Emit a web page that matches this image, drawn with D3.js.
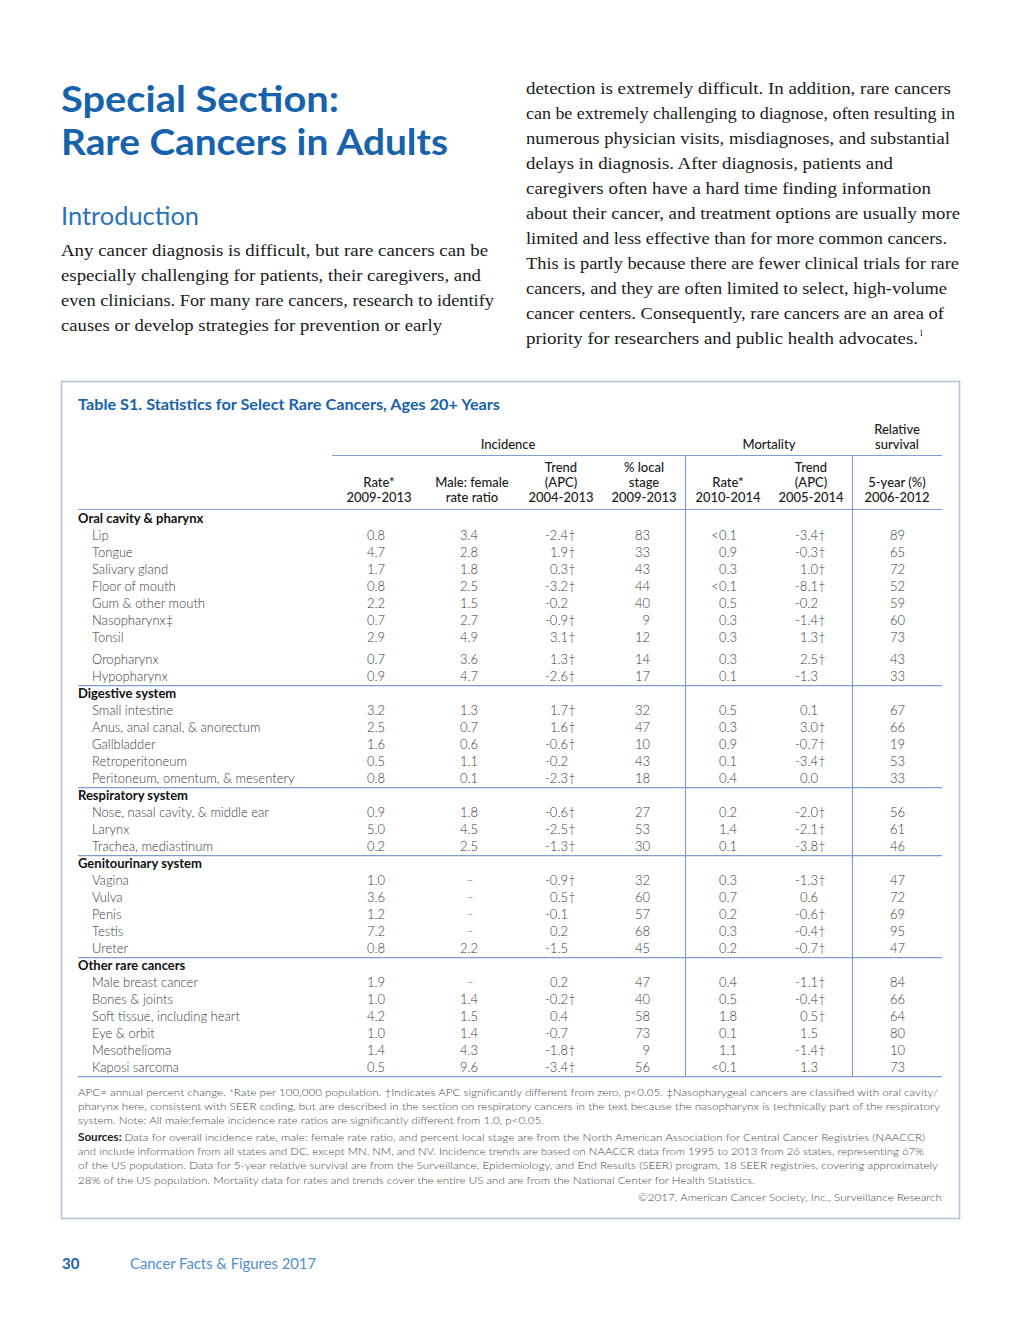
<!DOCTYPE html>
<html>
<head>
<meta charset="utf-8">
<script src="https://cdn.jsdelivr.net/npm/d3@7"></script>
<style>
html,body{margin:0;padding:0;background:#fff;overflow:hidden;}
svg{display:block;}
</style>
</head>
<body>
<div id="chart"></div>
<script>
// ---------- DATA ----------
const groups = ["Oral cavity & pharynx", "Digestive system", "Respiratory system", "Genitourinary system", "Other rare cancers"];
const sites = ["Lip","Tongue","Salivary gland","Floor of mouth","Gum & other mouth","Nasopharynx‡","Tonsil","Oropharynx","Hypopharynx",
  "Small intestine","Anus, anal canal, & anorectum","Gallbladder","Retroperitoneum","Peritoneum, omentum, & mesentery",
  "Nose, nasal cavity, & middle ear","Larynx","Trachea, mediastinum",
  "Vagina","Vulva","Penis","Testis","Ureter",
  "Male breast cancer","Bones & joints","Soft tissue, including heart","Eye & orbit","Mesothelioma","Kaposi sarcoma"];
const siteGroup = [0,0,0,0,0,0,0,0,0, 1,1,1,1,1, 2,2,2, 3,3,3,3,3, 4,4,4,4,4,4];
const incRate = ["0.8","4.7","1.7","0.8","2.2","0.7","2.9","0.7","0.9","3.2","2.5","1.6","0.5","0.8","0.9","5.0","0.2","1.0","3.6","1.2","7.2","0.8","1.9","1.0","4.2","1.0","1.4","0.5"];
const mfRatio = ["3.4","2.8","1.8","2.5","1.5","2.7","4.9","3.6","4.7","1.3","0.7","0.6","1.1","0.1","1.8","4.5","2.5","–","–","–","–","2.2","–","1.4","1.5","1.4","4.3","9.6"];
const incTrend = ["-2.4†","1.9†","0.3†","-3.2†","-0.2","-0.9†","3.1†","1.3†","-2.6†","1.7†","1.6†","-0.6†","-0.2","-2.3†","-0.6†","-2.5†","-1.3†","-0.9†","0.5†","-0.1","0.2","-1.5","0.2","-0.2†","0.4","-0.7","-1.8†","-3.4†"];
const localStage = ["83","33","43","44","40","9","12","14","17","32","47","10","43","18","27","53","30","32","60","57","68","45","47","40","58","73","9","56"];
const mortRate = ["<0.1","0.9","0.3","<0.1","0.5","0.3","0.3","0.3","0.1","0.5","0.3","0.9","0.1","0.4","0.2","1.4","0.1","0.3","0.7","0.2","0.3","0.2","0.4","0.5","1.8","0.1","1.1","<0.1"];
const mortTrend = ["-3.4†","-0.3†","1.0†","-8.1†","-0.2","-1.4†","1.3†","2.5†","-1.3","0.1","3.0†","-0.7†","-3.4†","0.0","-2.0†","-2.1†","-3.8†","-1.3†","0.6","-0.6†","-0.4†","-0.7†","-1.1†","-0.4†","0.5†","1.5","-1.4†","1.3"];
const survival = ["89","65","72","52","59","60","73","43","33","67","66","19","53","33","56","61","46","47","72","69","95","47","84","66","64","80","10","73"];
const gapBefore = ["Oropharynx"];

const colKeys = ["incRate","mfRatio","incTrend","localStage","mortRate","mortTrend","survival"];
const colData = {incRate, mfRatio, incTrend, localStage, mortRate, mortTrend, survival};
const colHeaders = [["Rate*","2009-2013"],["Male: female","rate ratio"],["Trend","(APC)","2004-2013"],["% local","stage","2009-2013"],["Rate*","2010-2014"],["Trend","(APC)","2005-2014"],["5-year (%)","2006-2012"]];
const groupHeaders = [["Incidence"],["Mortality"],["Relative","survival"]];

const titleLines = ["Special Section:", "Rare Cancers in Adults"];
const introLeft = ["Any cancer diagnosis is difficult, but rare cancers can be",
 "especially challenging for patients, their caregivers, and",
 "even clinicians. For many rare cancers, research to identify",
 "causes or develop strategies for prevention or early"];
const introRight = ["detection is extremely difficult. In addition, rare cancers",
 "can be extremely challenging to diagnose, often resulting in",
 "numerous physician visits, misdiagnoses, and substantial",
 "delays in diagnosis. After diagnosis, patients and",
 "caregivers often have a hard time finding information",
 "about their cancer, and treatment options are usually more",
 "limited and less effective than for more common cancers.",
 "This is partly because there are fewer clinical trials for rare",
 "cancers, and they are often limited to select, high-volume",
 "cancer centers. Consequently, rare cancers are an area of",
 "priority for researchers and public health advocates."];
const notes = ["APC= annual percent change. *Rate per 100,000 population. †Indicates APC significantly different from zero, p<0.05. ‡Nasopharygeal cancers are classified with oral cavity/",
 "pharynx here, consistent with SEER coding, but are described in the section on respiratory cancers in the text because the nasopharynx is technically part of the respiratory",
 "system. Note: All male:female incidence rate ratios are significantly different from 1.0, p<0.05."];
const sources = ["Data for overall incidence rate, male: female rate ratio, and percent local stage are from the North American Association for Central Cancer Registries (NAACCR)",
 "and include information from all states and DC, except MN, NM, and NV. Incidence trends are based on NAACCR data from 1995 to 2013 from 26 states, representing 67%",
 "of the US population. Data for 5-year relative survival are from the Surveillance, Epidemiology, and End Results (SEER) program, 18 SEER registries, covering approximately",
 "28% of the US population. Mortality data for rates and trends cover the entire US and are from the National Center for Health Statistics."];

// ---------- DRAW ----------
const W = 1020, H = 1320;
const svg = d3.select("#chart").append("svg").attr("width", W).attr("height", H);
svg.append("rect").attr("width", W).attr("height", H).attr("fill", "#fff");

const BLUE = "#1762ad";
const SANS = "Lato, 'Open Sans', sans-serif";
const SERIF = "'Liberation Serif', 'DejaVu Serif', serif";

function fitText(sel, w) { sel.attr("textLength", w).attr("lengthAdjust", "spacingAndGlyphs"); }

// Title
const titleW = [278, 387];
svg.selectAll("text.title").data(titleLines).join("text")
  .attr("x", 61).attr("y", (d,i)=> 112 + i*43)
  .attr("font-family", SANS).attr("font-weight", 700).attr("font-size", 36)
  .attr("fill", BLUE).text(d=>d)
  .each(function(d,i){ fitText(d3.select(this), titleW[i]); });

svg.append("text").attr("x", 61).attr("y", 225)
  .attr("font-family", SANS).attr("font-size", 25).attr("fill", "#2a72bb")
  .text("Introduction").call(fitText, 138);

const leftW = [427, 420, 433, 381];
svg.selectAll("text.introL").data(introLeft).join("text")
  .attr("x", 61).attr("y", (d,i)=> 256 + i*25)
  .attr("font-family", SERIF).attr("font-size", 17.5).attr("fill", "#1a1a1a")
  .text(d=>d).each(function(d,i){ fitText(d3.select(this), leftW[i]); });

const rightW = [425, 429, 424, 367, 405, 434, 421, 433, 421, 418, 392];
svg.selectAll("text.introR").data(introRight).join("text")
  .attr("x", 526).attr("y", (d,i)=> 94 + i*25)
  .attr("font-family", SERIF).attr("font-size", 17.5).attr("fill", "#1a1a1a")
  .text(d=>d).each(function(d,i){ fitText(d3.select(this), rightW[i]); });
svg.append("text").attr("x", 919).attr("y", 336).attr("font-family", SERIF)
  .attr("font-size", 9).attr("fill", "#1a1a1a").text("1");

// Table frame
svg.append("rect").attr("x", 61.5).attr("y", 381.5).attr("width", 898).attr("height", 837)
  .attr("fill", "none").attr("stroke", "#b9c4df").attr("stroke-width", 1.6);

svg.append("text").attr("x", 78).attr("y", 410)
  .attr("font-family", SANS).attr("font-weight", 700).attr("font-size", 15).attr("fill", BLUE)
  .text("Table S1. Statistics for Select Rare Cancers, Ages 20+ Years").call(fitText, 422);

// Column scales
const xRight = d3.scaleOrdinal().domain(colKeys).range([385, 478, 568, 650, 737, 818, 905]);
const xHead = d3.scaleOrdinal().domain(colKeys).range([379, 472, 561, 644, 728, 811, 897]);
const xGroup = d3.scaleOrdinal().domain([0,1,2]).range([508, 769, 897]);

const LINE = "#7f9fd3";
const TXT = "#3a3a3a";

// Group headers
groupHeaders.forEach((lines, gi) => {
  lines.forEach((t, li) => {
    svg.append("text").attr("x", xGroup(gi)).attr("y", 449 - (lines.length-1-li)*15)
      .attr("text-anchor", "middle").attr("font-family", SANS).attr("font-size", 13)
      .attr("font-weight", 500).attr("fill", "#1a1a1a").text(t);
  });
});
// Column headers
colKeys.forEach((k, ci) => {
  const lines = colHeaders[ci];
  lines.forEach((t, li) => {
    svg.append("text").attr("x", xHead(k)).attr("y", 502 - (lines.length-1-li)*15)
      .attr("text-anchor", "middle").attr("font-family", SANS).attr("font-size", 13)
      .attr("font-weight", 500).attr("fill", "#1a1a1a").text(t);
  });
});

// Row layout (slot index -> y)
const y = d3.scaleLinear().domain([0, 1]).range([523, 540]);
const rowsOut = [];
const groupRowsOut = [];
let slot = 0;
groups.forEach((g, gi) => {
  groupRowsOut.push({label: g, slot});
  slot += 1;
  sites.forEach((s, i) => {
    if (siteGroup[i] !== gi) return;
    if (gapBefore.includes(s)) slot += 0.3;
    rowsOut.push({i, slot});
    slot += 1;
  });
  groupRowsOut[gi].end = slot - 1;
});

// lines
svg.append("line").attr("x1", 332).attr("x2", 942).attr("y1", 455.5).attr("y2", 455.5)
  .attr("stroke", LINE).attr("stroke-width", 1.2);
svg.append("line").attr("x1", 78).attr("x2", 942).attr("y1", 509.5).attr("y2", 509.5)
  .attr("stroke", LINE).attr("stroke-width", 1.2);
groupRowsOut.forEach(g => {
  svg.append("line").attr("x1", 78).attr("x2", 942)
    .attr("y1", y(g.end) + 4.5).attr("y2", y(g.end) + 4.5)
    .attr("stroke", LINE).attr("stroke-width", 1.2);
});
const lastY = y(groupRowsOut[groupRowsOut.length-1].end) + 4.5;
[685.5, 852.5].forEach(x => {
  svg.append("line").attr("x1", x).attr("x2", x).attr("y1", 455.5).attr("y2", lastY)
    .attr("stroke", LINE).attr("stroke-width", 1.2);
});

// group labels
svg.selectAll("text.grp").data(groupRowsOut).join("text")
  .attr("x", 78).attr("y", d => y(d.slot))
  .attr("font-family", SANS).attr("font-weight", 700).attr("font-size", 13)
  .attr("fill", "#111").text(d => d.label);

// site labels
svg.selectAll("text.site").data(rowsOut).join("text")
  .attr("x", 92).attr("y", d => y(d.slot))
  .attr("font-family", SANS).attr("font-weight", 300).attr("font-size", 13)
  .attr("fill", TXT).text(d => sites[d.i]);

// values
colKeys.forEach(k => {
  const arr = colData[k];
  rowsOut.forEach(r => {
    const v = arr[r.i];
    const sig = v.endsWith("†");
    const num = sig ? v.slice(0, -1) : v;
    const yy = y(r.slot);
    if (num === "–") {
      svg.append("text").attr("x", xRight(k) - 8).attr("y", yy).attr("text-anchor", "middle")
        .attr("font-family", SANS).attr("font-weight", 300).attr("font-size", 13).attr("fill", "#777").text(num);
      return;
    }
    svg.append("text").attr("x", xRight(k)).attr("y", yy).attr("text-anchor", "end")
      .attr("font-family", SANS).attr("font-weight", 300).attr("font-size", 13).attr("fill", TXT).text(num);
    if (sig) {
      svg.append("text").attr("x", xRight(k) + 0.3).attr("y", yy - 1.5)
        .attr("font-family", SANS).attr("font-weight", 300).attr("font-size", 12.5).attr("fill", TXT).text("†");
    }
  });
});

// Notes
const noteW = [860, 862, 466];
svg.selectAll("text.note").data(notes).join("text")
  .attr("x", 78).attr("y", (d,i)=> 1096 + i*14.2)
  .attr("font-family", SANS).attr("font-weight", 300).attr("font-size", 10.5).attr("fill", "#444")
  .text(d=>d).each(function(d,i){ fitText(d3.select(this), noteW[i]); });

const srcW = [847, 846, 860, 677];
svg.selectAll("text.src").data(sources).join("text")
  .attr("x", 78).attr("y", (d,i)=> 1141 + i*14.2)
  .each(function(d,i){
    const t = d3.select(this).attr("font-family", SANS).attr("font-size", 10.5).attr("fill", "#444");
    if (i === 0) {
      t.append("tspan").attr("font-weight", 700).attr("fill", "#222").text("Sources: ");
    }
    t.append("tspan").attr("font-weight", 300).text(d);
    fitText(t, srcW[i]);
  });

svg.append("text").attr("x", 942).attr("y", 1201).attr("text-anchor", "end")
  .attr("font-family", SANS).attr("font-weight", 300).attr("font-size", 10.5).attr("fill", "#444")
  .text("©2017, American Cancer Society, Inc., Surveillance Research").call(fitText, 304);

// Footer
svg.append("text").attr("x", 62).attr("y", 1269).attr("font-family", SANS).attr("font-weight", 700)
  .attr("font-size", 15).attr("fill", BLUE).text("30");
svg.append("text").attr("x", 130).attr("y", 1269).attr("font-family", SANS).attr("font-weight", 400)
  .attr("font-size", 15.5).attr("fill", "#4d8fcf").text("Cancer Facts & Figures 2017").call(fitText, 186);
</script>
</body>
</html>
